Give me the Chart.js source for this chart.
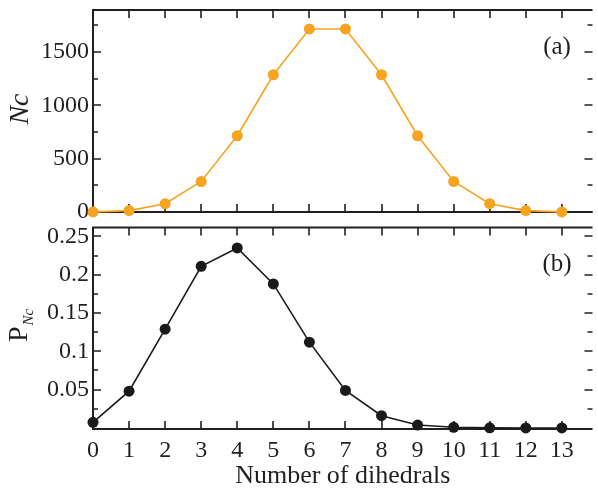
<!DOCTYPE html>
<html>
<head>
<meta charset="utf-8">
<script src="https://cdn.jsdelivr.net/npm/chart.js@4"></script>
<style>
  body { margin: 0; background: #fff; }
  #wrapA { position: absolute; left: 0; top: 0; width: 598px; height: 222px; }
  #wrapB { position: absolute; left: 0; top: 222px; width: 598px; height: 270px; }
</style>
</head>
<body>
<div id="wrapA"><canvas id="chartA"></canvas></div>
<div id="wrapB"><canvas id="chartB"></canvas></div>
<script>
// data
const dihedrals = [0, 1, 2, 3, 4, 5, 6, 7, 8, 9, 10, 11, 12, 13];
const ncValues = [1, 13, 78, 286, 715, 1287, 1716, 1716, 1287, 715, 286, 78, 13, 1];
const pncValues = [0.0073, 0.048, 0.129, 0.211, 0.235, 0.188, 0.112, 0.049, 0.016, 0.0038, 0.0008, 0.0001, 0, 0];

const ncTicks = [0, 500, 1000, 1500];
const ncMinor = [250, 750, 1250, 1750];
const pncTicks = [0.05, 0.1, 0.15, 0.2, 0.25];
const pncMinor = [0.025, 0.075, 0.125, 0.175, 0.225];

const FONT = "Liberation Serif";
const INK = "#231f20";
const ORANGE = "#f6a31f";

// frame + inward ticks, drawn under the points
const framePlugin = {
  id: "frame",
  beforeDatasetsDraw(chart, args, opts) {
    const { ctx, chartArea: a, scales } = chart;
    const x = scales.x, y = scales.y;
    ctx.save();
    ctx.strokeStyle = INK;
    ctx.lineWidth = 2;
    ctx.beginPath();
    ctx.moveTo(a.right, a.top);
    ctx.lineTo(a.left, a.top);
    ctx.lineTo(a.left, a.bottom);
    ctx.lineTo(a.right, a.bottom);
    ctx.stroke();

    ctx.lineWidth = 1.6;
    ctx.beginPath();
    dihedrals.forEach((v) => {
      const px = Math.round(x.getPixelForValue(v));
      ctx.moveTo(px, a.top);
      ctx.lineTo(px, a.top + 8);
      ctx.moveTo(px, a.bottom);
      ctx.lineTo(px, a.bottom - 8);
    });
    opts.major.forEach((v) => {
      const py = Math.round(y.getPixelForValue(v));
      ctx.moveTo(a.left, py);
      ctx.lineTo(a.left + 8, py);
      ctx.moveTo(a.right, py);
      ctx.lineTo(a.right - 8, py);
    });
    opts.minor.forEach((v) => {
      const py = Math.round(y.getPixelForValue(v));
      ctx.moveTo(a.left, py);
      ctx.lineTo(a.left + 5, py);
      ctx.moveTo(a.right, py);
      ctx.lineTo(a.right - 5, py);
    });
    ctx.stroke();
    ctx.restore();
  },
  afterDraw(chart, args, opts) {
    const ctx = chart.ctx;
    ctx.save();
    ctx.fillStyle = INK;
    ctx.font = "25px " + FONT;
    ctx.textAlign = "center";
    ctx.textBaseline = "middle";
    ctx.fillText(opts.tag, 557, opts.tagY);
    if (opts.drawTitle) opts.drawTitle(ctx);
    ctx.restore();
  },
};

function noPad(s) {
  s.paddingTop = 0;
  s.paddingBottom = 0;
  s.paddingLeft = 0;
  s.paddingRight = 0;
}

function baseOptions(yMin, yMax, yTicks) {
  return {
    responsive: true,
    maintainAspectRatio: false,
    animation: false,
    events: [],
    plugins: { legend: { display: false }, tooltip: { enabled: false } },
    scales: {
      x: {
        type: "linear",
        min: 0,
        max: 13.85,
        grid: { display: false, drawTicks: false },
        border: { display: false },
        afterBuildTicks: (s) => { s.ticks = dihedrals.map((v) => ({ value: v })); },
      },
      y: {
        min: yMin,
        max: yMax,
        grid: { display: false, drawTicks: false },
        border: { display: false },
        ticks: {
          color: INK,
          font: { family: FONT, size: 24 },
          padding: 4,
          callback: (v) => String(v),
        },
        afterBuildTicks: (s) => { s.ticks = yTicks.map((v) => ({ value: v })); },
        afterFit: (s) => { s.width = 93; noPad(s); },
      },
    },
  };
}

// (a) number of conformations
const optsA = baseOptions(0, 1894, ncTicks);
optsA.layout = { padding: { top: 10, bottom: 10, left: 0, right: 0 } };
optsA.scales.x.display = false;
optsA.plugins.frame = {
  major: ncTicks, minor: ncMinor, tag: "(a)", tagY: 47,
  drawTitle: (ctx) => {
    ctx.translate(28, 109);
    ctx.rotate(-Math.PI / 2);
    ctx.font = "italic 28px " + FONT;
    ctx.textAlign = "center";
    ctx.textBaseline = "alphabetic";
    ctx.fillText("Nc", 0, 0);
  },
};

new Chart(document.getElementById("chartA"), {
  type: "line",
  data: {
    datasets: [{
      data: dihedrals.map((d, i) => ({ x: d, y: ncValues[i] })),
      borderColor: ORANGE,
      backgroundColor: ORANGE,
      borderWidth: 1.6,
      pointRadius: 5.5,
      pointBorderWidth: 0,
      clip: false,
    }],
  },
  options: optsA,
  plugins: [framePlugin],
});

// (b) probability
const optsB = baseOptions(-0.0014, 0.2617, pncTicks);
optsB.layout = { padding: { top: 4, bottom: 0, left: 0, right: 0 } };
optsB.scales.x.ticks = { color: INK, font: { family: FONT, size: 24 }, padding: 7 };
optsB.scales.x.title = {
  display: true,
  text: "Number of dihedrals",
  color: INK,
  font: { family: FONT, size: 26 },
  padding: { top: 0, bottom: 0 },
};
optsB.scales.x.afterFit = (s) => { s.height = 63; noPad(s); };
optsB.plugins.frame = {
  major: pncTicks, minor: pncMinor, tag: "(b)", tagY: 42,
  drawTitle: (ctx) => {
    ctx.translate(27, 120);
    ctx.rotate(-Math.PI / 2);
    ctx.textBaseline = "alphabetic";
    ctx.textAlign = "left";
    ctx.font = "28px " + FONT;
    ctx.fillText("P", 0, 0);
    const w = ctx.measureText("P").width;
    ctx.font = "italic 15px " + FONT;
    ctx.fillText("Nc", w + 1, 6);
  },
};

new Chart(document.getElementById("chartB"), {
  type: "line",
  data: {
    datasets: [{
      data: dihedrals.map((d, i) => ({ x: d, y: pncValues[i] })),
      borderColor: "#1a1a1a",
      backgroundColor: "#1a1a1a",
      borderWidth: 1.6,
      pointRadius: 5.5,
      pointBorderWidth: 0,
      clip: false,
    }],
  },
  options: optsB,
  plugins: [framePlugin],
});
</script>
</body>
</html>
